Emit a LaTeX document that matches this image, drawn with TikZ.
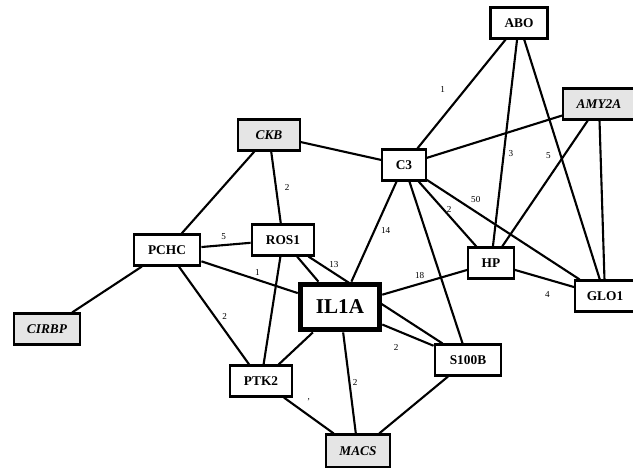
\documentclass[tikz,border=0pt]{standalone}
\usepackage{fontspec}
\setmainfont{Liberation Serif}
\usetikzlibrary{arrows,%
                positioning}
\pgfdeclarelayer{bg}
\pgfsetlayers{bg,main}

\begin{document}
\begin{tikzpicture}[x=0.025cm,y=-0.025cm,style=thick]
\tikzstyle{gene}=[draw,line width=1.5pt,fill=white,minimum height=22pt,inner sep=1pt,font=\bfseries\fontsize{9.5}{11}\selectfont]
\tikzstyle{marked}=[gene,fill=black!10,font=\bfseries\itshape\fontsize{9.5}{11}\selectfont]
\tikzstyle{hub}=[gene,line width=3.6pt,minimum width=56.5pt,minimum height=32.5pt,font=\bfseries\fontsize{15}{18}\selectfont]
\tikzstyle{edge} = [draw,line width=1.5pt,-]
\tikzstyle{weight} = [font=\fontsize{6.5}{7}\selectfont,inner sep=0.5pt];

\useasboundingbox (0,0) rectangle (633,468);

\draw (519,23) node[gene,minimum width=40.5pt] (abo) {ABO};
\draw (599,104) node[marked,minimum width=51pt] (amy) {AMY2A};
\draw (269,135) node[marked,minimum width=44pt] (ckb) {CKB};
\draw (404,165) node[gene,minimum width=31pt] (c3) {C3};
\draw (167,250) node[gene,minimum width=47.5pt] (pchc) {PCHC};
\draw (283,240) node[gene,minimum width=44.5pt] (ros) {ROS1};
\draw (340,307) node[hub] (ilia) {IL1A};
\draw (491,263) node[gene,minimum width=32.5pt] (hp) {HP};
\draw (605,296) node[gene,minimum width=42.5pt] (glo) {GLO1};
\draw (468,360) node[gene,minimum width=47.5pt] (s100b) {S100B};
\draw (261,381) node[gene,minimum width=44.5pt] (ptk) {PTK2};
\draw (47,329) node[marked,minimum width=47.5pt] (cirbp) {CIRBP};
\draw (358,451) node[marked,minimum width=46pt,minimum height=23.5pt] (macs) {MACS};

\begin{pgfonlayer}{bg}
\path[edge] (c3) -- node[weight,pos=0.54,xshift=-16pt] {1} (abo);
\path[edge] (abo) -- node[weight,pos=0.55,xshift=5pt] {3} (hp);
\path[edge] (abo) -- (glo);
\path[edge] (c3) -- (amy);
\path[edge] (amy) -- node[weight,pos=0.28,xshift=-11pt] {5} (hp);
\path[edge] (amy) -- (glo);
\path[edge] (ckb) -- (c3);
\path[edge] (ckb) -- (pchc);
\path[edge] (ckb) -- node[weight,xshift=8pt] {2} (ros);
\path[edge] (c3) -- node[weight,pos=0.49,xshift=8pt] {14} (ilia);
\path[edge] (c3) -- (s100b);
\path[edge] (c3) -- node[weight,pos=0.43,xshift=4pt] {2} (hp);
\path[edge] (c3) -- node[weight,pos=0.32,yshift=9pt] {50} (glo);
\path[edge] (hp) -- node[weight,pos=0.55,yshift=-11pt] {4} (glo);
\path[edge] (ilia) -- node[weight,pos=0.44,yshift=6pt] {18} (hp);
\path[edge] (pchc) -- node[weight,pos=0.45,yshift=6pt] {5} (ros);
\path[edge] (pchc) -- node[weight,pos=0.58,yshift=5pt] {1} (ilia);
\path[edge] (pchc) -- node[weight,pos=0.51,xshift=7pt] {2} (ptk);
\path[edge] (pchc) -- (cirbp);
\path[edge] (ros) -- node[weight,pos=0.19,yshift=6pt] {13} (s100b);
\path[edge] (ros) -- (ilia);
\path[edge] (ros) -- (ptk);
\path[edge] (ilia) -- node[weight,pos=0.27,yshift=-12pt] {2} (s100b);
\path[edge] (ilia) -- (ptk);
\path[edge] (ilia) -- node[weight,pos=0.5,xshift=4pt] {2} (macs);
\path[edge] (ptk) -- node[weight,pos=0.5,yshift=11pt] {,} (macs);
\path[edge] (s100b) -- (macs);
\end{pgfonlayer}
\end{tikzpicture}
\end{document}
